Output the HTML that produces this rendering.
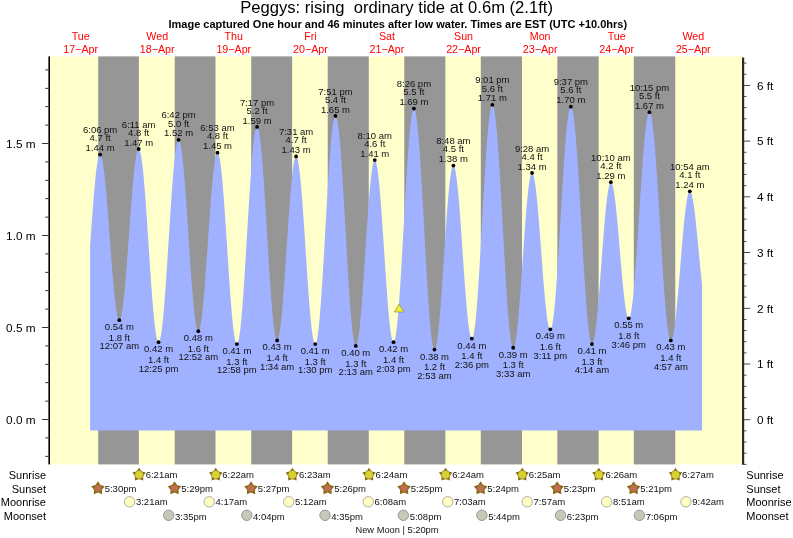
<!DOCTYPE html>
<html><head><meta charset="utf-8"><title>Peggys tide chart</title>
<style>
html,body{margin:0;padding:0;background:#fff;}
body{width:793px;height:538px;overflow:hidden;font-family:"Liberation Sans",sans-serif;}
svg{display:block;will-change:transform;opacity:0.999;}
</style></head><body>
<svg width="793" height="538" viewBox="0 0 793 538" font-family="Liberation Sans, sans-serif">
<rect x="0" y="0" width="793" height="538" fill="#fff"/>
<rect x="50.00" y="56.40" width="693.00" height="408.00" fill="#ffffcc"/>
<rect x="98.20" y="56.40" width="40.65" height="408.00" fill="#969696"/>
<rect x="174.73" y="56.40" width="40.76" height="408.00" fill="#969696"/>
<rect x="251.21" y="56.40" width="40.92" height="408.00" fill="#969696"/>
<rect x="327.74" y="56.40" width="41.03" height="408.00" fill="#969696"/>
<rect x="404.27" y="56.40" width="41.08" height="408.00" fill="#969696"/>
<rect x="480.80" y="56.40" width="41.19" height="408.00" fill="#969696"/>
<rect x="557.33" y="56.40" width="41.29" height="408.00" fill="#969696"/>
<rect x="633.81" y="56.40" width="41.45" height="408.00" fill="#969696"/>
<path d="M90.10 430.40 L90.10 245.86 L90.60 238.71 L91.10 231.60 L91.60 224.59 L92.10 217.70 L92.60 210.98 L93.10 204.48 L93.60 198.23 L94.10 192.27 L94.60 186.64 L95.10 181.38 L95.60 176.51 L96.10 172.07 L96.60 168.08 L97.10 164.57 L97.60 161.56 L98.10 159.07 L98.60 157.11 L99.10 155.70 L99.60 154.84 L100.10 154.54 L100.12 154.54 L100.60 154.80 L101.10 155.61 L101.60 156.97 L102.10 158.87 L102.60 161.29 L103.10 164.22 L103.60 167.64 L104.10 171.53 L104.60 175.85 L105.10 180.59 L105.60 185.71 L106.10 191.17 L106.60 196.94 L107.10 202.99 L107.60 209.26 L108.10 215.72 L108.60 222.32 L109.10 229.03 L109.60 235.79 L110.10 242.56 L110.60 249.29 L111.10 255.95 L111.60 262.48 L112.10 268.84 L112.60 275.00 L113.10 280.90 L113.60 286.51 L114.10 291.79 L114.60 296.70 L115.10 301.22 L115.60 305.31 L116.10 308.95 L116.60 312.11 L117.10 314.76 L117.60 316.90 L118.10 318.51 L118.60 319.58 L119.10 320.09 L119.31 320.14 L119.60 320.05 L120.10 319.45 L120.60 318.28 L121.10 316.57 L121.60 314.32 L122.10 311.54 L122.60 308.26 L123.10 304.49 L123.60 300.27 L124.10 295.61 L124.60 290.55 L125.10 285.12 L125.60 279.35 L126.10 273.30 L126.60 266.99 L127.10 260.46 L127.60 253.77 L128.10 246.94 L128.60 240.04 L129.10 233.10 L129.60 226.17 L130.10 219.30 L130.60 212.53 L131.10 205.90 L131.60 199.46 L132.10 193.25 L132.60 187.32 L133.10 181.69 L133.60 176.41 L134.10 171.52 L134.60 167.04 L135.10 163.00 L135.60 159.44 L136.10 156.37 L136.60 153.82 L137.10 151.79 L137.60 150.31 L138.10 149.39 L138.60 149.03 L138.67 149.02 L139.10 149.24 L139.60 150.05 L140.10 151.46 L140.60 153.46 L141.10 156.03 L141.60 159.16 L142.10 162.83 L142.60 167.01 L143.10 171.69 L143.60 176.82 L144.10 182.39 L144.60 188.35 L145.10 194.66 L145.60 201.29 L146.10 208.20 L146.60 215.34 L147.10 222.68 L147.60 230.15 L148.10 237.72 L148.60 245.34 L149.10 252.96 L149.60 260.54 L150.10 268.02 L150.60 275.36 L151.10 282.52 L151.60 289.45 L152.10 296.10 L152.60 302.44 L153.10 308.43 L153.60 314.02 L154.10 319.19 L154.60 323.90 L155.10 328.12 L155.60 331.83 L156.10 335.00 L156.60 337.61 L157.10 339.65 L157.60 341.10 L158.10 341.96 L158.56 342.22 L158.60 342.22 L159.10 341.86 L159.60 340.89 L160.10 339.30 L160.60 337.11 L161.10 334.33 L161.60 330.98 L162.10 327.08 L162.60 322.65 L163.10 317.71 L163.60 312.31 L164.10 306.47 L164.60 300.23 L165.10 293.62 L165.60 286.70 L166.10 279.49 L166.60 272.05 L167.10 264.41 L167.60 256.63 L168.10 248.76 L168.60 240.84 L169.10 232.92 L169.60 225.05 L170.10 217.28 L170.60 209.65 L171.10 202.22 L171.60 195.02 L172.10 188.11 L172.60 181.52 L173.10 175.29 L173.60 169.47 L174.10 164.09 L174.60 159.18 L175.10 154.77 L175.60 150.89 L176.10 147.57 L176.60 144.82 L177.10 142.65 L177.60 141.09 L178.10 140.15 L178.60 139.82 L178.61 139.82 L179.10 140.11 L179.60 141.00 L180.10 142.50 L180.60 144.59 L181.10 147.26 L181.60 150.49 L182.10 154.26 L182.60 158.55 L183.10 163.33 L183.60 168.57 L184.10 174.24 L184.60 180.29 L185.10 186.70 L185.60 193.42 L186.10 200.40 L186.60 207.61 L187.10 215.00 L187.60 222.52 L188.10 230.12 L188.60 237.75 L189.10 245.37 L189.60 252.93 L190.10 260.38 L190.60 267.66 L191.10 274.75 L191.60 281.58 L192.10 288.12 L192.60 294.32 L193.10 300.15 L193.60 305.57 L194.10 310.54 L194.60 315.04 L195.10 319.03 L195.60 322.48 L196.10 325.38 L196.60 327.71 L197.10 329.45 L197.60 330.60 L198.10 331.14 L198.29 331.18 L198.60 331.07 L199.10 330.40 L199.60 329.14 L200.10 327.30 L200.60 324.89 L201.10 321.92 L201.60 318.42 L202.10 314.40 L202.60 309.91 L203.10 304.95 L203.60 299.58 L204.10 293.82 L204.60 287.71 L205.10 281.30 L205.60 274.62 L206.10 267.72 L206.60 260.65 L207.10 253.46 L207.60 246.19 L208.10 238.89 L208.60 231.61 L209.10 224.40 L209.60 217.31 L210.10 210.38 L210.60 203.67 L211.10 197.21 L211.60 191.05 L212.10 185.22 L212.60 179.78 L213.10 174.76 L213.60 170.18 L214.10 166.09 L214.60 162.50 L215.10 159.44 L215.60 156.94 L216.10 155.00 L216.60 153.65 L217.10 152.88 L217.49 152.70 L217.60 152.71 L218.10 153.16 L218.60 154.24 L219.10 155.93 L219.60 158.22 L220.10 161.10 L220.60 164.56 L221.10 168.56 L221.60 173.09 L222.10 178.11 L222.60 183.59 L223.10 189.49 L223.60 195.78 L224.10 202.41 L224.60 209.34 L225.10 216.53 L225.60 223.93 L226.10 231.49 L226.60 239.16 L227.10 246.88 L227.60 254.62 L228.10 262.32 L228.60 269.92 L229.10 277.39 L229.60 284.66 L230.10 291.70 L230.60 298.46 L231.10 304.88 L231.60 310.94 L232.10 316.58 L232.60 321.79 L233.10 326.51 L233.60 330.72 L234.10 334.39 L234.60 337.49 L235.10 340.02 L235.60 341.94 L236.10 343.25 L236.60 343.95 L236.90 344.06 L237.10 344.01 L237.60 343.42 L238.10 342.18 L238.60 340.28 L239.10 337.76 L239.60 334.61 L240.10 330.86 L240.60 326.53 L241.10 321.65 L241.60 316.24 L242.10 310.35 L242.60 304.00 L243.10 297.23 L243.60 290.09 L244.10 282.62 L244.60 274.87 L245.10 266.87 L245.60 258.68 L246.10 250.36 L246.60 241.94 L247.10 233.48 L247.60 225.04 L248.10 216.66 L248.60 208.39 L249.10 200.29 L249.60 192.40 L250.10 184.78 L250.60 177.46 L251.10 170.49 L251.60 163.92 L252.10 157.79 L252.60 152.12 L253.10 146.96 L253.60 142.34 L254.10 138.28 L254.60 134.82 L255.10 131.96 L255.60 129.74 L256.10 128.15 L256.60 127.22 L257.06 126.94 L257.10 126.94 L257.60 127.32 L258.10 128.36 L258.60 130.04 L259.10 132.35 L259.60 135.29 L260.10 138.83 L260.60 142.95 L261.10 147.63 L261.60 152.83 L262.10 158.53 L262.60 164.70 L263.10 171.28 L263.60 178.25 L264.10 185.56 L264.60 193.16 L265.10 201.01 L265.60 209.07 L266.10 217.27 L266.60 225.57 L267.10 233.92 L267.60 242.28 L268.10 250.57 L268.60 258.77 L269.10 266.81 L269.60 274.65 L270.10 282.23 L270.60 289.52 L271.10 296.47 L271.60 303.03 L272.10 309.16 L272.60 314.83 L273.10 320.01 L273.60 324.65 L274.10 328.74 L274.60 332.24 L275.10 335.13 L275.60 337.41 L276.10 339.05 L276.60 340.04 L277.10 340.38 L277.11 340.38 L277.60 340.08 L278.10 339.15 L278.60 337.60 L279.10 335.43 L279.60 332.68 L280.10 329.34 L280.60 325.46 L281.10 321.04 L281.60 316.13 L282.10 310.75 L282.60 304.95 L283.10 298.76 L283.60 292.23 L284.10 285.40 L284.60 278.31 L285.10 271.02 L285.60 263.57 L286.10 256.02 L286.60 248.42 L287.10 240.81 L287.60 233.26 L288.10 225.82 L288.60 218.52 L289.10 211.43 L289.60 204.60 L290.10 198.06 L290.60 191.87 L291.10 186.06 L291.60 180.68 L292.10 175.77 L292.60 171.35 L293.10 167.45 L293.60 164.11 L294.10 161.35 L294.60 159.18 L295.10 157.63 L295.60 156.69 L296.10 156.38 L296.10 156.38 L296.60 156.70 L297.10 157.66 L297.60 159.24 L298.10 161.44 L298.60 164.23 L299.10 167.61 L299.60 171.55 L300.10 176.02 L300.60 181.00 L301.10 186.44 L301.60 192.31 L302.10 198.57 L302.60 205.18 L303.10 212.10 L303.60 219.28 L304.10 226.66 L304.60 234.21 L305.10 241.86 L305.60 249.57 L306.10 257.28 L306.60 264.95 L307.10 272.52 L307.60 279.93 L308.10 287.15 L308.60 294.11 L309.10 300.78 L309.60 307.10 L310.10 313.04 L310.60 318.56 L311.10 323.61 L311.60 328.17 L312.10 332.20 L312.60 335.68 L313.10 338.57 L313.60 340.87 L314.10 342.56 L314.60 343.62 L315.10 344.05 L315.19 344.06 L315.60 343.83 L316.10 342.92 L316.60 341.34 L317.10 339.09 L317.60 336.18 L318.10 332.63 L318.60 328.47 L319.10 323.72 L319.60 318.40 L320.10 312.55 L320.60 306.21 L321.10 299.41 L321.60 292.19 L322.10 284.60 L322.60 276.67 L323.10 268.47 L323.60 260.04 L324.10 251.43 L324.60 242.69 L325.10 233.87 L325.60 225.03 L326.10 216.22 L326.60 207.49 L327.10 198.89 L327.60 190.49 L328.10 182.32 L328.60 174.43 L329.10 166.88 L329.60 159.71 L330.10 152.96 L330.60 146.68 L331.10 140.89 L331.60 135.64 L332.10 130.96 L332.60 126.87 L333.10 123.40 L333.60 120.57 L334.10 118.39 L334.60 116.89 L335.10 116.07 L335.45 115.90 L335.60 115.93 L336.10 116.48 L336.60 117.71 L337.10 119.62 L337.60 122.19 L338.10 125.41 L338.60 129.26 L339.10 133.72 L339.60 138.76 L340.10 144.36 L340.60 150.46 L341.10 157.05 L341.60 164.08 L342.10 171.51 L342.60 179.29 L343.10 187.39 L343.60 195.74 L344.10 204.30 L344.60 213.02 L345.10 221.85 L345.60 230.73 L346.10 239.62 L346.60 248.45 L347.10 257.17 L347.60 265.74 L348.10 274.10 L348.60 282.21 L349.10 290.00 L349.60 297.45 L350.10 304.49 L350.60 311.10 L351.10 317.23 L351.60 322.84 L352.10 327.90 L352.60 332.38 L353.10 336.26 L353.60 339.50 L354.10 342.10 L354.60 344.03 L355.10 345.29 L355.60 345.86 L355.77 345.90 L356.10 345.76 L356.60 345.02 L357.10 343.65 L357.60 341.66 L358.10 339.06 L358.60 335.88 L359.10 332.13 L359.60 327.83 L360.10 323.03 L360.60 317.74 L361.10 312.01 L361.60 305.88 L362.10 299.39 L362.60 292.58 L363.10 285.50 L363.60 278.19 L364.10 270.71 L364.60 263.12 L365.10 255.45 L365.60 247.76 L366.10 240.12 L366.60 232.56 L367.10 225.13 L367.60 217.90 L368.10 210.91 L368.60 204.21 L369.10 197.84 L369.60 191.85 L370.10 186.27 L370.60 181.16 L371.10 176.53 L371.60 172.43 L372.10 168.88 L372.60 165.90 L373.10 163.52 L373.60 161.75 L374.10 160.60 L374.60 160.09 L374.75 160.06 L375.10 160.21 L375.60 160.97 L376.10 162.36 L376.60 164.37 L377.10 166.99 L377.60 170.20 L378.10 173.97 L378.60 178.28 L379.10 183.10 L379.60 188.40 L380.10 194.14 L380.60 200.28 L381.10 206.77 L381.60 213.57 L382.10 220.64 L382.60 227.92 L383.10 235.36 L383.60 242.91 L384.10 250.52 L384.60 258.13 L385.10 265.70 L385.60 273.16 L386.10 280.47 L386.60 287.57 L387.10 294.42 L387.60 300.97 L388.10 307.17 L388.60 312.97 L389.10 318.34 L389.60 323.25 L390.10 327.64 L390.60 331.51 L391.10 334.81 L391.60 337.52 L392.10 339.63 L392.60 341.13 L393.10 341.99 L393.53 342.22 L393.60 342.21 L394.10 341.76 L394.60 340.63 L395.10 338.80 L395.60 336.30 L396.10 333.14 L396.60 329.35 L397.10 324.93 L397.60 319.92 L398.10 314.35 L398.60 308.25 L399.10 301.66 L399.60 294.61 L400.10 287.16 L400.60 279.33 L401.10 271.19 L401.60 262.77 L402.10 254.13 L402.60 245.32 L403.10 236.40 L403.60 227.40 L404.10 218.40 L404.60 209.43 L405.10 200.56 L405.60 191.84 L406.10 183.32 L406.60 175.04 L407.10 167.07 L407.60 159.44 L408.10 152.21 L408.60 145.41 L409.10 139.08 L409.60 133.27 L410.10 128.01 L410.60 123.32 L411.10 119.24 L411.60 115.79 L412.10 113.00 L412.60 110.87 L413.10 109.42 L413.60 108.66 L413.90 108.54 L414.10 108.60 L414.60 109.23 L415.10 110.57 L415.60 112.59 L416.10 115.29 L416.60 118.65 L417.10 122.66 L417.60 127.29 L418.10 132.50 L418.60 138.29 L419.10 144.59 L419.60 151.39 L420.10 158.65 L420.60 166.31 L421.10 174.34 L421.60 182.68 L422.10 191.30 L422.60 200.14 L423.10 209.14 L423.60 218.26 L424.10 227.45 L424.60 236.64 L425.10 245.79 L425.60 254.84 L426.10 263.74 L426.60 272.44 L427.10 280.89 L427.60 289.03 L428.10 296.83 L428.60 304.23 L429.10 311.19 L429.60 317.68 L430.10 323.65 L430.60 329.07 L431.10 333.90 L431.60 338.13 L432.10 341.72 L432.60 344.66 L433.10 346.92 L433.60 348.50 L434.10 349.38 L434.48 349.58 L434.60 349.56 L435.10 349.09 L435.60 347.98 L436.10 346.25 L436.60 343.91 L437.10 340.97 L437.60 337.45 L438.10 333.38 L438.60 328.78 L439.10 323.69 L439.60 318.15 L440.10 312.18 L440.60 305.84 L441.10 299.17 L441.60 292.20 L442.10 285.00 L442.60 277.61 L443.10 270.08 L443.60 262.46 L444.10 254.81 L444.60 247.17 L445.10 239.61 L445.60 232.18 L446.10 224.92 L446.60 217.88 L447.10 211.12 L447.60 204.68 L448.10 198.61 L448.60 192.95 L449.10 187.73 L449.60 183.00 L450.10 178.78 L450.60 175.10 L451.10 172.00 L451.60 169.49 L452.10 167.59 L452.60 166.31 L453.10 165.67 L453.36 165.58 L453.60 165.65 L454.10 166.26 L454.60 167.49 L455.10 169.33 L455.60 171.76 L456.10 174.77 L456.60 178.34 L457.10 182.44 L457.60 187.04 L458.10 192.11 L458.60 197.61 L459.10 203.50 L459.60 209.74 L460.10 216.28 L460.60 223.09 L461.10 230.10 L461.60 237.27 L462.10 244.54 L462.60 251.87 L463.10 259.21 L463.60 266.49 L464.10 273.66 L464.60 280.68 L465.10 287.50 L465.60 294.06 L466.10 300.31 L466.60 306.22 L467.10 311.74 L467.60 316.83 L468.10 321.46 L468.60 325.58 L469.10 329.18 L469.60 332.22 L470.10 334.68 L470.60 336.55 L471.10 337.81 L471.60 338.45 L471.87 338.54 L472.10 338.47 L472.60 337.80 L473.10 336.45 L473.60 334.43 L474.10 331.75 L474.60 328.41 L475.10 324.45 L475.60 319.89 L476.10 314.75 L476.60 309.06 L477.10 302.85 L477.60 296.17 L478.10 289.05 L478.60 281.54 L479.10 273.67 L479.60 265.50 L480.10 257.07 L480.60 248.43 L481.10 239.63 L481.60 230.73 L482.10 221.78 L482.60 212.82 L483.10 203.92 L483.60 195.12 L484.10 186.48 L484.60 178.05 L485.10 169.87 L485.60 162.00 L486.10 154.47 L486.60 147.35 L487.10 140.66 L487.60 134.45 L488.10 128.75 L488.60 123.60 L489.10 119.02 L489.60 115.05 L490.10 111.71 L490.60 109.01 L491.10 106.98 L491.60 105.62 L492.10 104.94 L492.34 104.86 L492.60 104.95 L493.10 105.65 L493.60 107.03 L494.10 109.10 L494.60 111.82 L495.10 115.20 L495.60 119.20 L496.10 123.82 L496.60 129.01 L497.10 134.76 L497.60 141.02 L498.10 147.77 L498.60 154.97 L499.10 162.57 L499.60 170.53 L500.10 178.81 L500.60 187.36 L501.10 196.13 L501.60 205.07 L502.10 214.13 L502.60 223.26 L503.10 232.41 L503.60 241.52 L504.10 250.55 L504.60 259.43 L505.10 268.13 L505.60 276.60 L506.10 284.78 L506.60 292.62 L507.10 300.09 L507.60 307.14 L508.10 313.73 L508.60 319.83 L509.10 325.40 L509.60 330.40 L510.10 334.81 L510.60 338.61 L511.10 341.77 L511.60 344.27 L512.10 346.11 L512.60 347.26 L513.10 347.73 L513.19 347.74 L513.60 347.54 L514.10 346.74 L514.60 345.35 L515.10 343.36 L515.60 340.81 L516.10 337.69 L516.60 334.04 L517.10 329.89 L517.60 325.25 L518.10 320.16 L518.60 314.65 L519.10 308.78 L519.60 302.56 L520.10 296.06 L520.60 289.31 L521.10 282.35 L521.60 275.25 L522.10 268.04 L522.60 260.78 L523.10 253.51 L523.60 246.30 L524.10 239.18 L524.60 232.20 L525.10 225.42 L525.60 218.88 L526.10 212.63 L526.60 206.71 L527.10 201.16 L527.60 196.02 L528.10 191.33 L528.60 187.11 L529.10 183.40 L529.60 180.22 L530.10 177.59 L530.60 175.54 L531.10 174.08 L531.60 173.21 L532.07 172.94 L532.10 172.94 L532.60 173.27 L533.10 174.17 L533.60 175.64 L534.10 177.67 L534.60 180.25 L535.10 183.35 L535.60 186.95 L536.10 191.03 L536.60 195.55 L537.10 200.49 L537.60 205.80 L538.10 211.45 L538.60 217.39 L539.10 223.58 L539.60 229.98 L540.10 236.53 L540.60 243.19 L541.10 249.91 L541.60 256.64 L542.10 263.33 L542.60 269.93 L543.10 276.39 L543.60 282.66 L544.10 288.70 L544.60 294.46 L545.10 299.90 L545.60 304.97 L546.10 309.65 L546.60 313.90 L547.10 317.68 L547.60 320.96 L548.10 323.73 L548.60 325.97 L549.10 327.64 L549.60 328.75 L550.10 329.29 L550.31 329.34 L550.60 329.23 L551.10 328.53 L551.60 327.18 L552.10 325.20 L552.60 322.59 L553.10 319.36 L553.60 315.54 L554.10 311.15 L554.60 306.22 L555.10 300.77 L555.60 294.84 L556.10 288.45 L556.60 281.66 L557.10 274.49 L557.60 266.99 L558.10 259.20 L558.60 251.18 L559.10 242.96 L559.60 234.59 L560.10 226.13 L560.60 217.62 L561.10 209.11 L561.60 200.65 L562.10 192.30 L562.60 184.09 L563.10 176.09 L563.60 168.33 L564.10 160.86 L564.60 153.73 L565.10 146.97 L565.60 140.62 L566.10 134.73 L566.60 129.33 L567.10 124.45 L567.60 120.11 L568.10 116.35 L568.60 113.18 L569.10 110.63 L569.60 108.70 L570.10 107.41 L570.60 106.78 L570.84 106.70 L571.10 106.79 L571.60 107.46 L572.10 108.78 L572.60 110.74 L573.10 113.34 L573.60 116.56 L574.10 120.38 L574.60 124.79 L575.10 129.75 L575.60 135.23 L576.10 141.22 L576.60 147.67 L577.10 154.56 L577.60 161.83 L578.10 169.46 L578.60 177.39 L579.10 185.59 L579.60 194.01 L580.10 202.61 L580.60 211.33 L581.10 220.13 L581.60 228.95 L582.10 237.76 L582.60 246.50 L583.10 255.12 L583.60 263.58 L584.10 271.82 L584.60 279.81 L585.10 287.50 L585.60 294.85 L586.10 301.81 L586.60 308.34 L587.10 314.42 L587.60 320.01 L588.10 325.07 L588.60 329.58 L589.10 333.51 L589.60 336.85 L590.10 339.57 L590.60 341.66 L591.10 343.10 L591.60 343.89 L591.95 344.06 L592.10 344.04 L592.60 343.60 L593.10 342.60 L593.60 341.06 L594.10 338.98 L594.60 336.38 L595.10 333.28 L595.60 329.70 L596.10 325.65 L596.60 321.18 L597.10 316.30 L597.60 311.06 L598.10 305.49 L598.60 299.63 L599.10 293.52 L599.60 287.19 L600.10 280.71 L600.60 274.10 L601.10 267.41 L601.60 260.70 L602.10 254.00 L602.60 247.37 L603.10 240.84 L603.60 234.46 L604.10 228.29 L604.60 222.35 L605.10 216.69 L605.60 211.35 L606.10 206.37 L606.60 201.78 L607.10 197.61 L607.60 193.89 L608.10 190.65 L608.60 187.90 L609.10 185.68 L609.60 183.98 L610.10 182.83 L610.60 182.23 L610.89 182.14 L611.10 182.19 L611.60 182.67 L612.10 183.68 L612.60 185.20 L613.10 187.22 L613.60 189.73 L614.10 192.71 L614.60 196.13 L615.10 199.97 L615.60 204.20 L616.10 208.78 L616.60 213.68 L617.10 218.86 L617.60 224.29 L618.10 229.92 L618.60 235.70 L619.10 241.59 L619.60 247.56 L620.10 253.54 L620.60 259.50 L621.10 265.38 L621.60 271.15 L622.10 276.76 L622.60 282.16 L623.10 287.31 L623.60 292.18 L624.10 296.72 L624.60 300.91 L625.10 304.70 L625.60 308.08 L626.10 311.00 L626.60 313.46 L627.10 315.43 L627.60 316.90 L628.10 317.85 L628.60 318.27 L628.76 318.30 L629.10 318.16 L629.60 317.46 L630.10 316.17 L630.60 314.29 L631.10 311.85 L631.60 308.85 L632.10 305.31 L632.60 301.25 L633.10 296.70 L633.60 291.67 L634.10 286.21 L634.60 280.34 L635.10 274.09 L635.60 267.50 L636.10 260.62 L636.60 253.47 L637.10 246.10 L637.60 238.55 L638.10 230.87 L638.60 223.10 L639.10 215.28 L639.60 207.47 L640.10 199.70 L640.60 192.02 L641.10 184.47 L641.60 177.10 L642.10 169.95 L642.60 163.06 L643.10 156.47 L643.60 150.22 L644.10 144.35 L644.60 138.88 L645.10 133.85 L645.60 129.30 L646.10 125.24 L646.60 121.69 L647.10 118.69 L647.60 116.24 L648.10 114.36 L648.60 113.07 L649.10 112.36 L649.45 112.22 L649.60 112.25 L650.10 112.75 L650.60 113.86 L651.10 115.57 L651.60 117.89 L652.10 120.79 L652.60 124.26 L653.10 128.28 L653.60 132.82 L654.10 137.88 L654.60 143.41 L655.10 149.38 L655.60 155.77 L656.10 162.55 L656.60 169.66 L657.10 177.08 L657.60 184.77 L658.10 192.68 L658.60 200.78 L659.10 209.01 L659.60 217.33 L660.10 225.70 L660.60 234.08 L661.10 242.41 L661.60 250.66 L662.10 258.77 L662.60 266.71 L663.10 274.44 L663.60 281.90 L664.10 289.06 L664.60 295.88 L665.10 302.33 L665.60 308.37 L666.10 313.97 L666.60 319.09 L667.10 323.71 L667.60 327.80 L668.10 331.35 L668.60 334.33 L669.10 336.73 L669.60 338.54 L670.10 339.73 L670.60 340.32 L670.83 340.38 L671.10 340.30 L671.60 339.77 L672.10 338.73 L672.60 337.19 L673.10 335.16 L673.60 332.66 L674.10 329.71 L674.60 326.31 L675.10 322.50 L675.60 318.31 L676.10 313.76 L676.60 308.87 L677.10 303.70 L677.60 298.26 L678.10 292.61 L678.60 286.77 L679.10 280.79 L679.60 274.70 L680.10 268.56 L680.60 262.39 L681.10 256.25 L681.60 250.18 L682.10 244.21 L682.60 238.39 L683.10 232.76 L683.60 227.36 L684.10 222.22 L684.60 217.38 L685.10 212.86 L685.60 208.72 L686.10 204.96 L686.60 201.62 L687.10 198.72 L687.60 196.28 L688.10 194.31 L688.60 192.83 L689.10 191.86 L689.60 191.39 L689.81 191.34 L690.10 191.42 L690.60 191.92 L691.10 192.89 L691.60 194.31 L692.10 196.18 L692.60 198.48 L693.10 201.19 L693.60 204.29 L694.10 207.76 L694.60 211.56 L695.10 215.67 L695.60 220.06 L696.10 224.68 L696.60 229.51 L697.10 234.51 L697.60 239.63 L698.10 244.83 L698.60 250.08 L699.10 255.32 L699.60 260.53 L700.10 265.65 L700.60 270.66 L701.10 275.50 L701.60 280.13 L702.10 284.54 L702.10 430.40 Z" fill="#a0b2ff"/>
<g stroke="#000" stroke-width="1" shape-rendering="crispEdges">
</g>
<rect x="48.4" y="56.40" width="1.6" height="408.00" fill="#000"/>
<rect x="742.0" y="57.5" width="2.2" height="407.30" fill="#2a2a2a"/>
<rect x="45.2" y="455.88" width="3.3" height="0.85" fill="#111"/>
<rect x="45.2" y="437.48" width="3.3" height="0.85" fill="#111"/>
<rect x="42" y="419.08" width="6.5" height="0.85" fill="#111"/>
<text x="35.6" y="423.90" font-size="11.8" text-anchor="end" fill="#000">0.0 m</text>
<rect x="45.2" y="400.68" width="3.3" height="0.85" fill="#111"/>
<rect x="45.2" y="382.28" width="3.3" height="0.85" fill="#111"/>
<rect x="45.2" y="363.88" width="3.3" height="0.85" fill="#111"/>
<rect x="45.2" y="345.48" width="3.3" height="0.85" fill="#111"/>
<rect x="42" y="327.08" width="6.5" height="0.85" fill="#111"/>
<text x="35.6" y="331.90" font-size="11.8" text-anchor="end" fill="#000">0.5 m</text>
<rect x="45.2" y="308.68" width="3.3" height="0.85" fill="#111"/>
<rect x="45.2" y="290.28" width="3.3" height="0.85" fill="#111"/>
<rect x="45.2" y="271.88" width="3.3" height="0.85" fill="#111"/>
<rect x="45.2" y="253.48" width="3.3" height="0.85" fill="#111"/>
<rect x="42" y="235.08" width="6.5" height="0.85" fill="#111"/>
<text x="35.6" y="239.90" font-size="11.8" text-anchor="end" fill="#000">1.0 m</text>
<rect x="45.2" y="216.68" width="3.3" height="0.85" fill="#111"/>
<rect x="45.2" y="198.28" width="3.3" height="0.85" fill="#111"/>
<rect x="45.2" y="179.88" width="3.3" height="0.85" fill="#111"/>
<rect x="45.2" y="161.48" width="3.3" height="0.85" fill="#111"/>
<rect x="42" y="143.08" width="6.5" height="0.85" fill="#111"/>
<text x="35.6" y="147.90" font-size="11.8" text-anchor="end" fill="#000">1.5 m</text>
<rect x="45.2" y="124.68" width="3.3" height="0.85" fill="#111"/>
<rect x="45.2" y="106.28" width="3.3" height="0.85" fill="#111"/>
<rect x="45.2" y="87.88" width="3.3" height="0.85" fill="#111"/>
<rect x="45.2" y="69.48" width="3.3" height="0.85" fill="#111"/>
<rect x="744" y="463.91" width="2.5" height="0.85" fill="#3a3a3a"/>
<rect x="744" y="452.77" width="2.5" height="0.85" fill="#3a3a3a"/>
<rect x="744" y="441.62" width="2.5" height="0.85" fill="#3a3a3a"/>
<rect x="744" y="430.48" width="2.5" height="0.85" fill="#3a3a3a"/>
<rect x="744" y="419.33" width="6.2" height="0.85" fill="#2a2a2a"/>
<text x="756.9" y="424.05" font-size="11.8" fill="#000">0 ft</text>
<rect x="744" y="408.18" width="2.5" height="0.85" fill="#3a3a3a"/>
<rect x="744" y="397.04" width="2.5" height="0.85" fill="#3a3a3a"/>
<rect x="744" y="385.89" width="2.5" height="0.85" fill="#3a3a3a"/>
<rect x="744" y="374.75" width="2.5" height="0.85" fill="#3a3a3a"/>
<rect x="744" y="363.60" width="6.2" height="0.85" fill="#2a2a2a"/>
<text x="756.9" y="368.32" font-size="11.8" fill="#000">1 ft</text>
<rect x="744" y="352.45" width="2.5" height="0.85" fill="#3a3a3a"/>
<rect x="744" y="341.31" width="2.5" height="0.85" fill="#3a3a3a"/>
<rect x="744" y="330.16" width="2.5" height="0.85" fill="#3a3a3a"/>
<rect x="744" y="319.02" width="2.5" height="0.85" fill="#3a3a3a"/>
<rect x="744" y="307.87" width="6.2" height="0.85" fill="#2a2a2a"/>
<text x="756.9" y="312.59" font-size="11.8" fill="#000">2 ft</text>
<rect x="744" y="296.72" width="2.5" height="0.85" fill="#3a3a3a"/>
<rect x="744" y="285.58" width="2.5" height="0.85" fill="#3a3a3a"/>
<rect x="744" y="274.43" width="2.5" height="0.85" fill="#3a3a3a"/>
<rect x="744" y="263.29" width="2.5" height="0.85" fill="#3a3a3a"/>
<rect x="744" y="252.14" width="6.2" height="0.85" fill="#2a2a2a"/>
<text x="756.9" y="256.86" font-size="11.8" fill="#000">3 ft</text>
<rect x="744" y="240.99" width="2.5" height="0.85" fill="#3a3a3a"/>
<rect x="744" y="229.85" width="2.5" height="0.85" fill="#3a3a3a"/>
<rect x="744" y="218.70" width="2.5" height="0.85" fill="#3a3a3a"/>
<rect x="744" y="207.56" width="2.5" height="0.85" fill="#3a3a3a"/>
<rect x="744" y="196.41" width="6.2" height="0.85" fill="#2a2a2a"/>
<text x="756.9" y="201.13" font-size="11.8" fill="#000">4 ft</text>
<rect x="744" y="185.26" width="2.5" height="0.85" fill="#3a3a3a"/>
<rect x="744" y="174.12" width="2.5" height="0.85" fill="#3a3a3a"/>
<rect x="744" y="162.97" width="2.5" height="0.85" fill="#3a3a3a"/>
<rect x="744" y="151.83" width="2.5" height="0.85" fill="#3a3a3a"/>
<rect x="744" y="140.68" width="6.2" height="0.85" fill="#2a2a2a"/>
<text x="756.9" y="145.40" font-size="11.8" fill="#000">5 ft</text>
<rect x="744" y="129.53" width="2.5" height="0.85" fill="#3a3a3a"/>
<rect x="744" y="118.39" width="2.5" height="0.85" fill="#3a3a3a"/>
<rect x="744" y="107.24" width="2.5" height="0.85" fill="#3a3a3a"/>
<rect x="744" y="96.10" width="2.5" height="0.85" fill="#3a3a3a"/>
<rect x="744" y="84.95" width="6.2" height="0.85" fill="#2a2a2a"/>
<text x="756.9" y="89.67" font-size="11.8" fill="#000">6 ft</text>
<rect x="744" y="73.80" width="2.5" height="0.85" fill="#3a3a3a"/>
<rect x="744" y="62.66" width="2.5" height="0.85" fill="#3a3a3a"/>
<text x="396.6" y="12.9" font-size="16.6" text-anchor="middle" fill="#000" xml:space="preserve">Peggys: rising  ordinary tide at 0.6m (2.1ft)</text>
<text x="397.8" y="27.6" font-size="11" font-weight="bold" text-anchor="middle" fill="#000">Image captured One hour and 46 minutes after low water. Times are EST (UTC +10.0hrs)</text>
<text x="80.65" y="39.7" font-size="10.7" text-anchor="middle" fill="#f00">Tue</text>
<text x="80.65" y="52.8" font-size="10.7" text-anchor="middle" fill="#f00">17−Apr</text>
<text x="157.23" y="39.7" font-size="10.7" text-anchor="middle" fill="#f00">Wed</text>
<text x="157.23" y="52.8" font-size="10.7" text-anchor="middle" fill="#f00">18−Apr</text>
<text x="233.82" y="39.7" font-size="10.7" text-anchor="middle" fill="#f00">Thu</text>
<text x="233.82" y="52.8" font-size="10.7" text-anchor="middle" fill="#f00">19−Apr</text>
<text x="310.40" y="39.7" font-size="10.7" text-anchor="middle" fill="#f00">Fri</text>
<text x="310.40" y="52.8" font-size="10.7" text-anchor="middle" fill="#f00">20−Apr</text>
<text x="386.99" y="39.7" font-size="10.7" text-anchor="middle" fill="#f00">Sat</text>
<text x="386.99" y="52.8" font-size="10.7" text-anchor="middle" fill="#f00">21−Apr</text>
<text x="463.57" y="39.7" font-size="10.7" text-anchor="middle" fill="#f00">Sun</text>
<text x="463.57" y="52.8" font-size="10.7" text-anchor="middle" fill="#f00">22−Apr</text>
<text x="540.15" y="39.7" font-size="10.7" text-anchor="middle" fill="#f00">Mon</text>
<text x="540.15" y="52.8" font-size="10.7" text-anchor="middle" fill="#f00">23−Apr</text>
<text x="616.74" y="39.7" font-size="10.7" text-anchor="middle" fill="#f00">Tue</text>
<text x="616.74" y="52.8" font-size="10.7" text-anchor="middle" fill="#f00">24−Apr</text>
<text x="693.32" y="39.7" font-size="10.7" text-anchor="middle" fill="#f00">Wed</text>
<text x="693.32" y="52.8" font-size="10.7" text-anchor="middle" fill="#f00">25−Apr</text>
<circle cx="100.12" cy="154.54" r="1.9" fill="#000"/>
<text x="100.12" y="133.14" font-size="9.5" text-anchor="middle" fill="#111">6:06 pm</text>
<text x="100.12" y="141.24" font-size="9.5" text-anchor="middle" fill="#111">4.7 ft</text>
<text x="100.12" y="151.14" font-size="9.5" text-anchor="middle" fill="#111">1.44 m</text>
<circle cx="119.31" cy="320.14" r="1.9" fill="#000"/>
<text x="119.31" y="330.24" font-size="9.5" text-anchor="middle" fill="#111">0.54 m</text>
<text x="119.31" y="340.84" font-size="9.5" text-anchor="middle" fill="#111">1.8 ft</text>
<text x="119.31" y="349.44" font-size="9.5" text-anchor="middle" fill="#111">12:07 am</text>
<circle cx="138.67" cy="149.02" r="1.9" fill="#000"/>
<text x="138.67" y="127.62" font-size="9.5" text-anchor="middle" fill="#111">6:11 am</text>
<text x="138.67" y="135.72" font-size="9.5" text-anchor="middle" fill="#111">4.8 ft</text>
<text x="138.67" y="145.62" font-size="9.5" text-anchor="middle" fill="#111">1.47 m</text>
<circle cx="158.56" cy="342.22" r="1.9" fill="#000"/>
<text x="158.56" y="352.32" font-size="9.5" text-anchor="middle" fill="#111">0.42 m</text>
<text x="158.56" y="362.92" font-size="9.5" text-anchor="middle" fill="#111">1.4 ft</text>
<text x="158.56" y="371.52" font-size="9.5" text-anchor="middle" fill="#111">12:25 pm</text>
<circle cx="178.61" cy="139.82" r="1.9" fill="#000"/>
<text x="178.61" y="118.42" font-size="9.5" text-anchor="middle" fill="#111">6:42 pm</text>
<text x="178.61" y="126.52" font-size="9.5" text-anchor="middle" fill="#111">5.0 ft</text>
<text x="178.61" y="136.42" font-size="9.5" text-anchor="middle" fill="#111">1.52 m</text>
<circle cx="198.29" cy="331.18" r="1.9" fill="#000"/>
<text x="198.29" y="341.28" font-size="9.5" text-anchor="middle" fill="#111">0.48 m</text>
<text x="198.29" y="351.88" font-size="9.5" text-anchor="middle" fill="#111">1.6 ft</text>
<text x="198.29" y="360.48" font-size="9.5" text-anchor="middle" fill="#111">12:52 am</text>
<circle cx="217.49" cy="152.70" r="1.9" fill="#000"/>
<text x="217.49" y="131.30" font-size="9.5" text-anchor="middle" fill="#111">6:53 am</text>
<text x="217.49" y="139.40" font-size="9.5" text-anchor="middle" fill="#111">4.8 ft</text>
<text x="217.49" y="149.30" font-size="9.5" text-anchor="middle" fill="#111">1.45 m</text>
<circle cx="236.90" cy="344.06" r="1.9" fill="#000"/>
<text x="236.90" y="354.16" font-size="9.5" text-anchor="middle" fill="#111">0.41 m</text>
<text x="236.90" y="364.76" font-size="9.5" text-anchor="middle" fill="#111">1.3 ft</text>
<text x="236.90" y="373.36" font-size="9.5" text-anchor="middle" fill="#111">12:58 pm</text>
<circle cx="257.06" cy="126.94" r="1.9" fill="#000"/>
<text x="257.06" y="105.54" font-size="9.5" text-anchor="middle" fill="#111">7:17 pm</text>
<text x="257.06" y="113.64" font-size="9.5" text-anchor="middle" fill="#111">5.2 ft</text>
<text x="257.06" y="123.54" font-size="9.5" text-anchor="middle" fill="#111">1.59 m</text>
<circle cx="277.11" cy="340.38" r="1.9" fill="#000"/>
<text x="277.11" y="350.48" font-size="9.5" text-anchor="middle" fill="#111">0.43 m</text>
<text x="277.11" y="361.08" font-size="9.5" text-anchor="middle" fill="#111">1.4 ft</text>
<text x="277.11" y="369.68" font-size="9.5" text-anchor="middle" fill="#111">1:34 am</text>
<circle cx="296.10" cy="156.38" r="1.9" fill="#000"/>
<text x="296.10" y="134.98" font-size="9.5" text-anchor="middle" fill="#111">7:31 am</text>
<text x="296.10" y="143.08" font-size="9.5" text-anchor="middle" fill="#111">4.7 ft</text>
<text x="296.10" y="152.98" font-size="9.5" text-anchor="middle" fill="#111">1.43 m</text>
<circle cx="315.19" cy="344.06" r="1.9" fill="#000"/>
<text x="315.19" y="354.16" font-size="9.5" text-anchor="middle" fill="#111">0.41 m</text>
<text x="315.19" y="364.76" font-size="9.5" text-anchor="middle" fill="#111">1.3 ft</text>
<text x="315.19" y="373.36" font-size="9.5" text-anchor="middle" fill="#111">1:30 pm</text>
<circle cx="335.45" cy="115.90" r="1.9" fill="#000"/>
<text x="335.45" y="94.50" font-size="9.5" text-anchor="middle" fill="#111">7:51 pm</text>
<text x="335.45" y="102.60" font-size="9.5" text-anchor="middle" fill="#111">5.4 ft</text>
<text x="335.45" y="112.50" font-size="9.5" text-anchor="middle" fill="#111">1.65 m</text>
<circle cx="355.77" cy="345.90" r="1.9" fill="#000"/>
<text x="355.77" y="356.00" font-size="9.5" text-anchor="middle" fill="#111">0.40 m</text>
<text x="355.77" y="366.60" font-size="9.5" text-anchor="middle" fill="#111">1.3 ft</text>
<text x="355.77" y="375.20" font-size="9.5" text-anchor="middle" fill="#111">2:13 am</text>
<circle cx="374.75" cy="160.06" r="1.9" fill="#000"/>
<text x="374.75" y="138.66" font-size="9.5" text-anchor="middle" fill="#111">8:10 am</text>
<text x="374.75" y="146.76" font-size="9.5" text-anchor="middle" fill="#111">4.6 ft</text>
<text x="374.75" y="156.66" font-size="9.5" text-anchor="middle" fill="#111">1.41 m</text>
<circle cx="393.53" cy="342.22" r="1.9" fill="#000"/>
<text x="393.53" y="352.32" font-size="9.5" text-anchor="middle" fill="#111">0.42 m</text>
<text x="393.53" y="362.92" font-size="9.5" text-anchor="middle" fill="#111">1.4 ft</text>
<text x="393.53" y="371.52" font-size="9.5" text-anchor="middle" fill="#111">2:03 pm</text>
<circle cx="413.90" cy="108.54" r="1.9" fill="#000"/>
<text x="413.90" y="87.14" font-size="9.5" text-anchor="middle" fill="#111">8:26 pm</text>
<text x="413.90" y="95.24" font-size="9.5" text-anchor="middle" fill="#111">5.5 ft</text>
<text x="413.90" y="105.14" font-size="9.5" text-anchor="middle" fill="#111">1.69 m</text>
<circle cx="434.48" cy="349.58" r="1.9" fill="#000"/>
<text x="434.48" y="359.68" font-size="9.5" text-anchor="middle" fill="#111">0.38 m</text>
<text x="434.48" y="370.28" font-size="9.5" text-anchor="middle" fill="#111">1.2 ft</text>
<text x="434.48" y="378.88" font-size="9.5" text-anchor="middle" fill="#111">2:53 am</text>
<circle cx="453.36" cy="165.58" r="1.9" fill="#000"/>
<text x="453.36" y="144.18" font-size="9.5" text-anchor="middle" fill="#111">8:48 am</text>
<text x="453.36" y="152.28" font-size="9.5" text-anchor="middle" fill="#111">4.5 ft</text>
<text x="453.36" y="162.18" font-size="9.5" text-anchor="middle" fill="#111">1.38 m</text>
<circle cx="471.87" cy="338.54" r="1.9" fill="#000"/>
<text x="471.87" y="348.64" font-size="9.5" text-anchor="middle" fill="#111">0.44 m</text>
<text x="471.87" y="359.24" font-size="9.5" text-anchor="middle" fill="#111">1.4 ft</text>
<text x="471.87" y="367.84" font-size="9.5" text-anchor="middle" fill="#111">2:36 pm</text>
<circle cx="492.34" cy="104.86" r="1.9" fill="#000"/>
<text x="492.34" y="83.46" font-size="9.5" text-anchor="middle" fill="#111">9:01 pm</text>
<text x="492.34" y="91.56" font-size="9.5" text-anchor="middle" fill="#111">5.6 ft</text>
<text x="492.34" y="101.46" font-size="9.5" text-anchor="middle" fill="#111">1.71 m</text>
<circle cx="513.19" cy="347.74" r="1.9" fill="#000"/>
<text x="513.19" y="357.84" font-size="9.5" text-anchor="middle" fill="#111">0.39 m</text>
<text x="513.19" y="368.44" font-size="9.5" text-anchor="middle" fill="#111">1.3 ft</text>
<text x="513.19" y="377.04" font-size="9.5" text-anchor="middle" fill="#111">3:33 am</text>
<circle cx="532.07" cy="172.94" r="1.9" fill="#000"/>
<text x="532.07" y="151.54" font-size="9.5" text-anchor="middle" fill="#111">9:28 am</text>
<text x="532.07" y="159.64" font-size="9.5" text-anchor="middle" fill="#111">4.4 ft</text>
<text x="532.07" y="169.54" font-size="9.5" text-anchor="middle" fill="#111">1.34 m</text>
<circle cx="550.31" cy="329.34" r="1.9" fill="#000"/>
<text x="550.31" y="339.44" font-size="9.5" text-anchor="middle" fill="#111">0.49 m</text>
<text x="550.31" y="350.04" font-size="9.5" text-anchor="middle" fill="#111">1.6 ft</text>
<text x="550.31" y="358.64" font-size="9.5" text-anchor="middle" fill="#111">3:11 pm</text>
<circle cx="570.84" cy="106.70" r="1.9" fill="#000"/>
<text x="570.84" y="85.30" font-size="9.5" text-anchor="middle" fill="#111">9:37 pm</text>
<text x="570.84" y="93.40" font-size="9.5" text-anchor="middle" fill="#111">5.6 ft</text>
<text x="570.84" y="103.30" font-size="9.5" text-anchor="middle" fill="#111">1.70 m</text>
<circle cx="591.95" cy="344.06" r="1.9" fill="#000"/>
<text x="591.95" y="354.16" font-size="9.5" text-anchor="middle" fill="#111">0.41 m</text>
<text x="591.95" y="364.76" font-size="9.5" text-anchor="middle" fill="#111">1.3 ft</text>
<text x="591.95" y="373.36" font-size="9.5" text-anchor="middle" fill="#111">4:14 am</text>
<circle cx="610.89" cy="182.14" r="1.9" fill="#000"/>
<text x="610.89" y="160.74" font-size="9.5" text-anchor="middle" fill="#111">10:10 am</text>
<text x="610.89" y="168.84" font-size="9.5" text-anchor="middle" fill="#111">4.2 ft</text>
<text x="610.89" y="178.74" font-size="9.5" text-anchor="middle" fill="#111">1.29 m</text>
<circle cx="628.76" cy="318.30" r="1.9" fill="#000"/>
<text x="628.76" y="328.40" font-size="9.5" text-anchor="middle" fill="#111">0.55 m</text>
<text x="628.76" y="339.00" font-size="9.5" text-anchor="middle" fill="#111">1.8 ft</text>
<text x="628.76" y="347.60" font-size="9.5" text-anchor="middle" fill="#111">3:46 pm</text>
<circle cx="649.45" cy="112.22" r="1.9" fill="#000"/>
<text x="649.45" y="90.82" font-size="9.5" text-anchor="middle" fill="#111">10:15 pm</text>
<text x="649.45" y="98.92" font-size="9.5" text-anchor="middle" fill="#111">5.5 ft</text>
<text x="649.45" y="108.82" font-size="9.5" text-anchor="middle" fill="#111">1.67 m</text>
<circle cx="670.83" cy="340.38" r="1.9" fill="#000"/>
<text x="670.83" y="350.48" font-size="9.5" text-anchor="middle" fill="#111">0.43 m</text>
<text x="670.83" y="361.08" font-size="9.5" text-anchor="middle" fill="#111">1.4 ft</text>
<text x="670.83" y="369.68" font-size="9.5" text-anchor="middle" fill="#111">4:57 am</text>
<circle cx="689.81" cy="191.34" r="1.9" fill="#000"/>
<text x="689.81" y="169.94" font-size="9.5" text-anchor="middle" fill="#111">10:54 am</text>
<text x="689.81" y="178.04" font-size="9.5" text-anchor="middle" fill="#111">4.1 ft</text>
<text x="689.81" y="187.94" font-size="9.5" text-anchor="middle" fill="#111">1.24 m</text>
<path d="M399.1 304.2 L403.9 312 L394.4 312 Z" fill="#eeee33" stroke="#8a7a30" stroke-width="0.6"/>
<polygon points="139.10,467.70 141.57,471.40 145.86,472.61 143.10,476.10 143.28,480.54 139.10,479.00 134.93,480.54 135.11,476.10 132.35,472.61 136.64,471.40" fill="#8b6914"/><circle cx="139.10" cy="474.70" r="4.30" fill="#d3d333" stroke="#8b6914" stroke-width="0.5"/>
<text x="145.70" y="477.60" font-size="9.5" fill="#111">6:21am</text>
<polygon points="215.74,467.70 218.21,471.40 222.49,472.61 219.74,476.10 219.92,480.54 215.74,479.00 211.57,480.54 211.75,476.10 208.99,472.61 213.27,471.40" fill="#8b6914"/><circle cx="215.74" cy="474.70" r="4.30" fill="#d3d333" stroke="#8b6914" stroke-width="0.5"/>
<text x="222.34" y="477.60" font-size="9.5" fill="#111">6:22am</text>
<polygon points="292.38,467.70 294.85,471.40 299.13,472.61 296.37,476.10 296.55,480.54 292.38,479.00 288.21,480.54 288.38,476.10 285.63,472.61 289.91,471.40" fill="#8b6914"/><circle cx="292.38" cy="474.70" r="4.30" fill="#d3d333" stroke="#8b6914" stroke-width="0.5"/>
<text x="298.98" y="477.60" font-size="9.5" fill="#111">6:23am</text>
<polygon points="369.02,467.70 371.49,471.40 375.77,472.61 373.01,476.10 373.19,480.54 369.02,479.00 364.84,480.54 365.02,476.10 362.26,472.61 366.55,471.40" fill="#8b6914"/><circle cx="369.02" cy="474.70" r="4.30" fill="#d3d333" stroke="#8b6914" stroke-width="0.5"/>
<text x="375.62" y="477.60" font-size="9.5" fill="#111">6:24am</text>
<polygon points="445.60,467.70 448.07,471.40 452.35,472.61 449.59,476.10 449.77,480.54 445.60,479.00 441.43,480.54 441.61,476.10 438.85,472.61 443.13,471.40" fill="#8b6914"/><circle cx="445.60" cy="474.70" r="4.30" fill="#d3d333" stroke="#8b6914" stroke-width="0.5"/>
<text x="452.20" y="477.60" font-size="9.5" fill="#111">6:24am</text>
<polygon points="522.24,467.70 524.71,471.40 528.99,472.61 526.23,476.10 526.41,480.54 522.24,479.00 518.06,480.54 518.24,476.10 515.49,472.61 519.77,471.40" fill="#8b6914"/><circle cx="522.24" cy="474.70" r="4.30" fill="#d3d333" stroke="#8b6914" stroke-width="0.5"/>
<text x="528.84" y="477.60" font-size="9.5" fill="#111">6:25am</text>
<polygon points="598.87,467.70 601.34,471.40 605.63,472.61 602.87,476.10 603.05,480.54 598.87,479.00 594.70,480.54 594.88,476.10 592.12,472.61 596.41,471.40" fill="#8b6914"/><circle cx="598.87" cy="474.70" r="4.30" fill="#d3d333" stroke="#8b6914" stroke-width="0.5"/>
<text x="605.47" y="477.60" font-size="9.5" fill="#111">6:26am</text>
<polygon points="675.51,467.70 677.98,471.40 682.26,472.61 679.51,476.10 679.69,480.54 675.51,479.00 671.34,480.54 671.52,476.10 668.76,472.61 673.04,471.40" fill="#8b6914"/><circle cx="675.51" cy="474.70" r="4.30" fill="#d3d333" stroke="#8b6914" stroke-width="0.5"/>
<text x="682.11" y="477.60" font-size="9.5" fill="#111">6:27am</text>
<polygon points="98.00,481.30 100.47,485.00 104.75,486.21 101.99,489.70 102.17,494.14 98.00,492.60 93.83,494.14 94.01,489.70 91.25,486.21 95.53,485.00" fill="#8b6914"/><circle cx="98.00" cy="488.30" r="3.80" fill="#bc7050" stroke="#8b6914" stroke-width="0.5"/>
<text x="104.70" y="492.30" font-size="9.5" fill="#111">5:30pm</text>
<polygon points="174.53,481.30 177.00,485.00 181.28,486.21 178.53,489.70 178.70,494.14 174.53,492.60 170.36,494.14 170.54,489.70 167.78,486.21 172.06,485.00" fill="#8b6914"/><circle cx="174.53" cy="488.30" r="3.80" fill="#bc7050" stroke="#8b6914" stroke-width="0.5"/>
<text x="181.23" y="492.30" font-size="9.5" fill="#111">5:29pm</text>
<polygon points="251.01,481.30 253.48,485.00 257.76,486.21 255.00,489.70 255.18,494.14 251.01,492.60 246.84,494.14 247.01,489.70 244.26,486.21 248.54,485.00" fill="#8b6914"/><circle cx="251.01" cy="488.30" r="3.80" fill="#bc7050" stroke="#8b6914" stroke-width="0.5"/>
<text x="257.71" y="492.30" font-size="9.5" fill="#111">5:27pm</text>
<polygon points="327.54,481.30 330.01,485.00 334.29,486.21 331.53,489.70 331.71,494.14 327.54,492.60 323.37,494.14 323.55,489.70 320.79,486.21 325.07,485.00" fill="#8b6914"/><circle cx="327.54" cy="488.30" r="3.80" fill="#bc7050" stroke="#8b6914" stroke-width="0.5"/>
<text x="334.24" y="492.30" font-size="9.5" fill="#111">5:26pm</text>
<polygon points="404.07,481.30 406.54,485.00 410.82,486.21 408.07,489.70 408.24,494.14 404.07,492.60 399.90,494.14 400.08,489.70 397.32,486.21 401.60,485.00" fill="#8b6914"/><circle cx="404.07" cy="488.30" r="3.80" fill="#bc7050" stroke="#8b6914" stroke-width="0.5"/>
<text x="410.77" y="492.30" font-size="9.5" fill="#111">5:25pm</text>
<polygon points="480.60,481.30 483.07,485.00 487.35,486.21 484.60,489.70 484.77,494.14 480.60,492.60 476.43,494.14 476.61,489.70 473.85,486.21 478.13,485.00" fill="#8b6914"/><circle cx="480.60" cy="488.30" r="3.80" fill="#bc7050" stroke="#8b6914" stroke-width="0.5"/>
<text x="487.30" y="492.30" font-size="9.5" fill="#111">5:24pm</text>
<polygon points="557.13,481.30 559.60,485.00 563.88,486.21 561.13,489.70 561.31,494.14 557.13,492.60 552.96,494.14 553.14,489.70 550.38,486.21 554.66,485.00" fill="#8b6914"/><circle cx="557.13" cy="488.30" r="3.80" fill="#bc7050" stroke="#8b6914" stroke-width="0.5"/>
<text x="563.83" y="492.30" font-size="9.5" fill="#111">5:23pm</text>
<polygon points="633.61,481.30 636.08,485.00 640.36,486.21 637.60,489.70 637.78,494.14 633.61,492.60 629.44,494.14 629.62,489.70 626.86,486.21 631.14,485.00" fill="#8b6914"/><circle cx="633.61" cy="488.30" r="3.80" fill="#bc7050" stroke="#8b6914" stroke-width="0.5"/>
<text x="640.31" y="492.30" font-size="9.5" fill="#111">5:21pm</text>
<circle cx="129.63" cy="501.80" r="5.2" fill="#ffffc4" stroke="#999" stroke-width="0.8"/>
<text x="135.93" y="505.10" font-size="9.5" fill="#111">3:21am</text>
<circle cx="209.19" cy="501.80" r="5.2" fill="#ffffc4" stroke="#999" stroke-width="0.8"/>
<text x="215.49" y="505.10" font-size="9.5" fill="#111">4:17am</text>
<circle cx="288.70" cy="501.80" r="5.2" fill="#ffffc4" stroke="#999" stroke-width="0.8"/>
<text x="295.00" y="505.10" font-size="9.5" fill="#111">5:12am</text>
<circle cx="368.27" cy="501.80" r="5.2" fill="#ffffc4" stroke="#999" stroke-width="0.8"/>
<text x="374.57" y="505.10" font-size="9.5" fill="#111">6:08am</text>
<circle cx="447.77" cy="501.80" r="5.2" fill="#ffffc4" stroke="#999" stroke-width="0.8"/>
<text x="454.07" y="505.10" font-size="9.5" fill="#111">7:03am</text>
<circle cx="527.23" cy="501.80" r="5.2" fill="#ffffc4" stroke="#999" stroke-width="0.8"/>
<text x="533.53" y="505.10" font-size="9.5" fill="#111">7:57am</text>
<circle cx="606.69" cy="501.80" r="5.2" fill="#ffffc4" stroke="#999" stroke-width="0.8"/>
<text x="612.99" y="505.10" font-size="9.5" fill="#111">8:51am</text>
<circle cx="685.98" cy="501.80" r="5.2" fill="#ffffc4" stroke="#999" stroke-width="0.8"/>
<text x="692.28" y="505.10" font-size="9.5" fill="#111">9:42am</text>
<circle cx="168.67" cy="515.30" r="5.2" fill="#c8c8b9" stroke="#85857c" stroke-width="0.8"/>
<text x="174.97" y="519.70" font-size="9.5" fill="#111">3:35pm</text>
<circle cx="246.79" cy="515.30" r="5.2" fill="#c8c8b9" stroke="#85857c" stroke-width="0.8"/>
<text x="253.09" y="519.70" font-size="9.5" fill="#111">4:04pm</text>
<circle cx="325.03" cy="515.30" r="5.2" fill="#c8c8b9" stroke="#85857c" stroke-width="0.8"/>
<text x="331.33" y="519.70" font-size="9.5" fill="#111">4:35pm</text>
<circle cx="403.37" cy="515.30" r="5.2" fill="#c8c8b9" stroke="#85857c" stroke-width="0.8"/>
<text x="409.67" y="519.70" font-size="9.5" fill="#111">5:08pm</text>
<circle cx="481.87" cy="515.30" r="5.2" fill="#c8c8b9" stroke="#85857c" stroke-width="0.8"/>
<text x="488.17" y="519.70" font-size="9.5" fill="#111">5:44pm</text>
<circle cx="560.52" cy="515.30" r="5.2" fill="#c8c8b9" stroke="#85857c" stroke-width="0.8"/>
<text x="566.82" y="519.70" font-size="9.5" fill="#111">6:23pm</text>
<circle cx="639.39" cy="515.30" r="5.2" fill="#c8c8b9" stroke="#85857c" stroke-width="0.8"/>
<text x="645.69" y="519.70" font-size="9.5" fill="#111">7:06pm</text>
<text x="46.0" y="478.80" font-size="11.0" text-anchor="end" fill="#000">Sunrise</text>
<text x="746.3" y="478.80" font-size="11.0" fill="#000">Sunrise</text>
<text x="46.0" y="492.80" font-size="11.0" text-anchor="end" fill="#000">Sunset</text>
<text x="746.3" y="492.80" font-size="11.0" fill="#000">Sunset</text>
<text x="46.0" y="506.30" font-size="11.0" text-anchor="end" fill="#000">Moonrise</text>
<text x="746.3" y="506.30" font-size="11.0" fill="#000">Moonrise</text>
<text x="46.0" y="519.80" font-size="11.0" text-anchor="end" fill="#000">Moonset</text>
<text x="746.3" y="519.80" font-size="11.0" fill="#000">Moonset</text>
<text x="397" y="532.5" font-size="9.3" text-anchor="middle" fill="#111">New Moon | 5:20pm</text>
</svg>
</body></html>
